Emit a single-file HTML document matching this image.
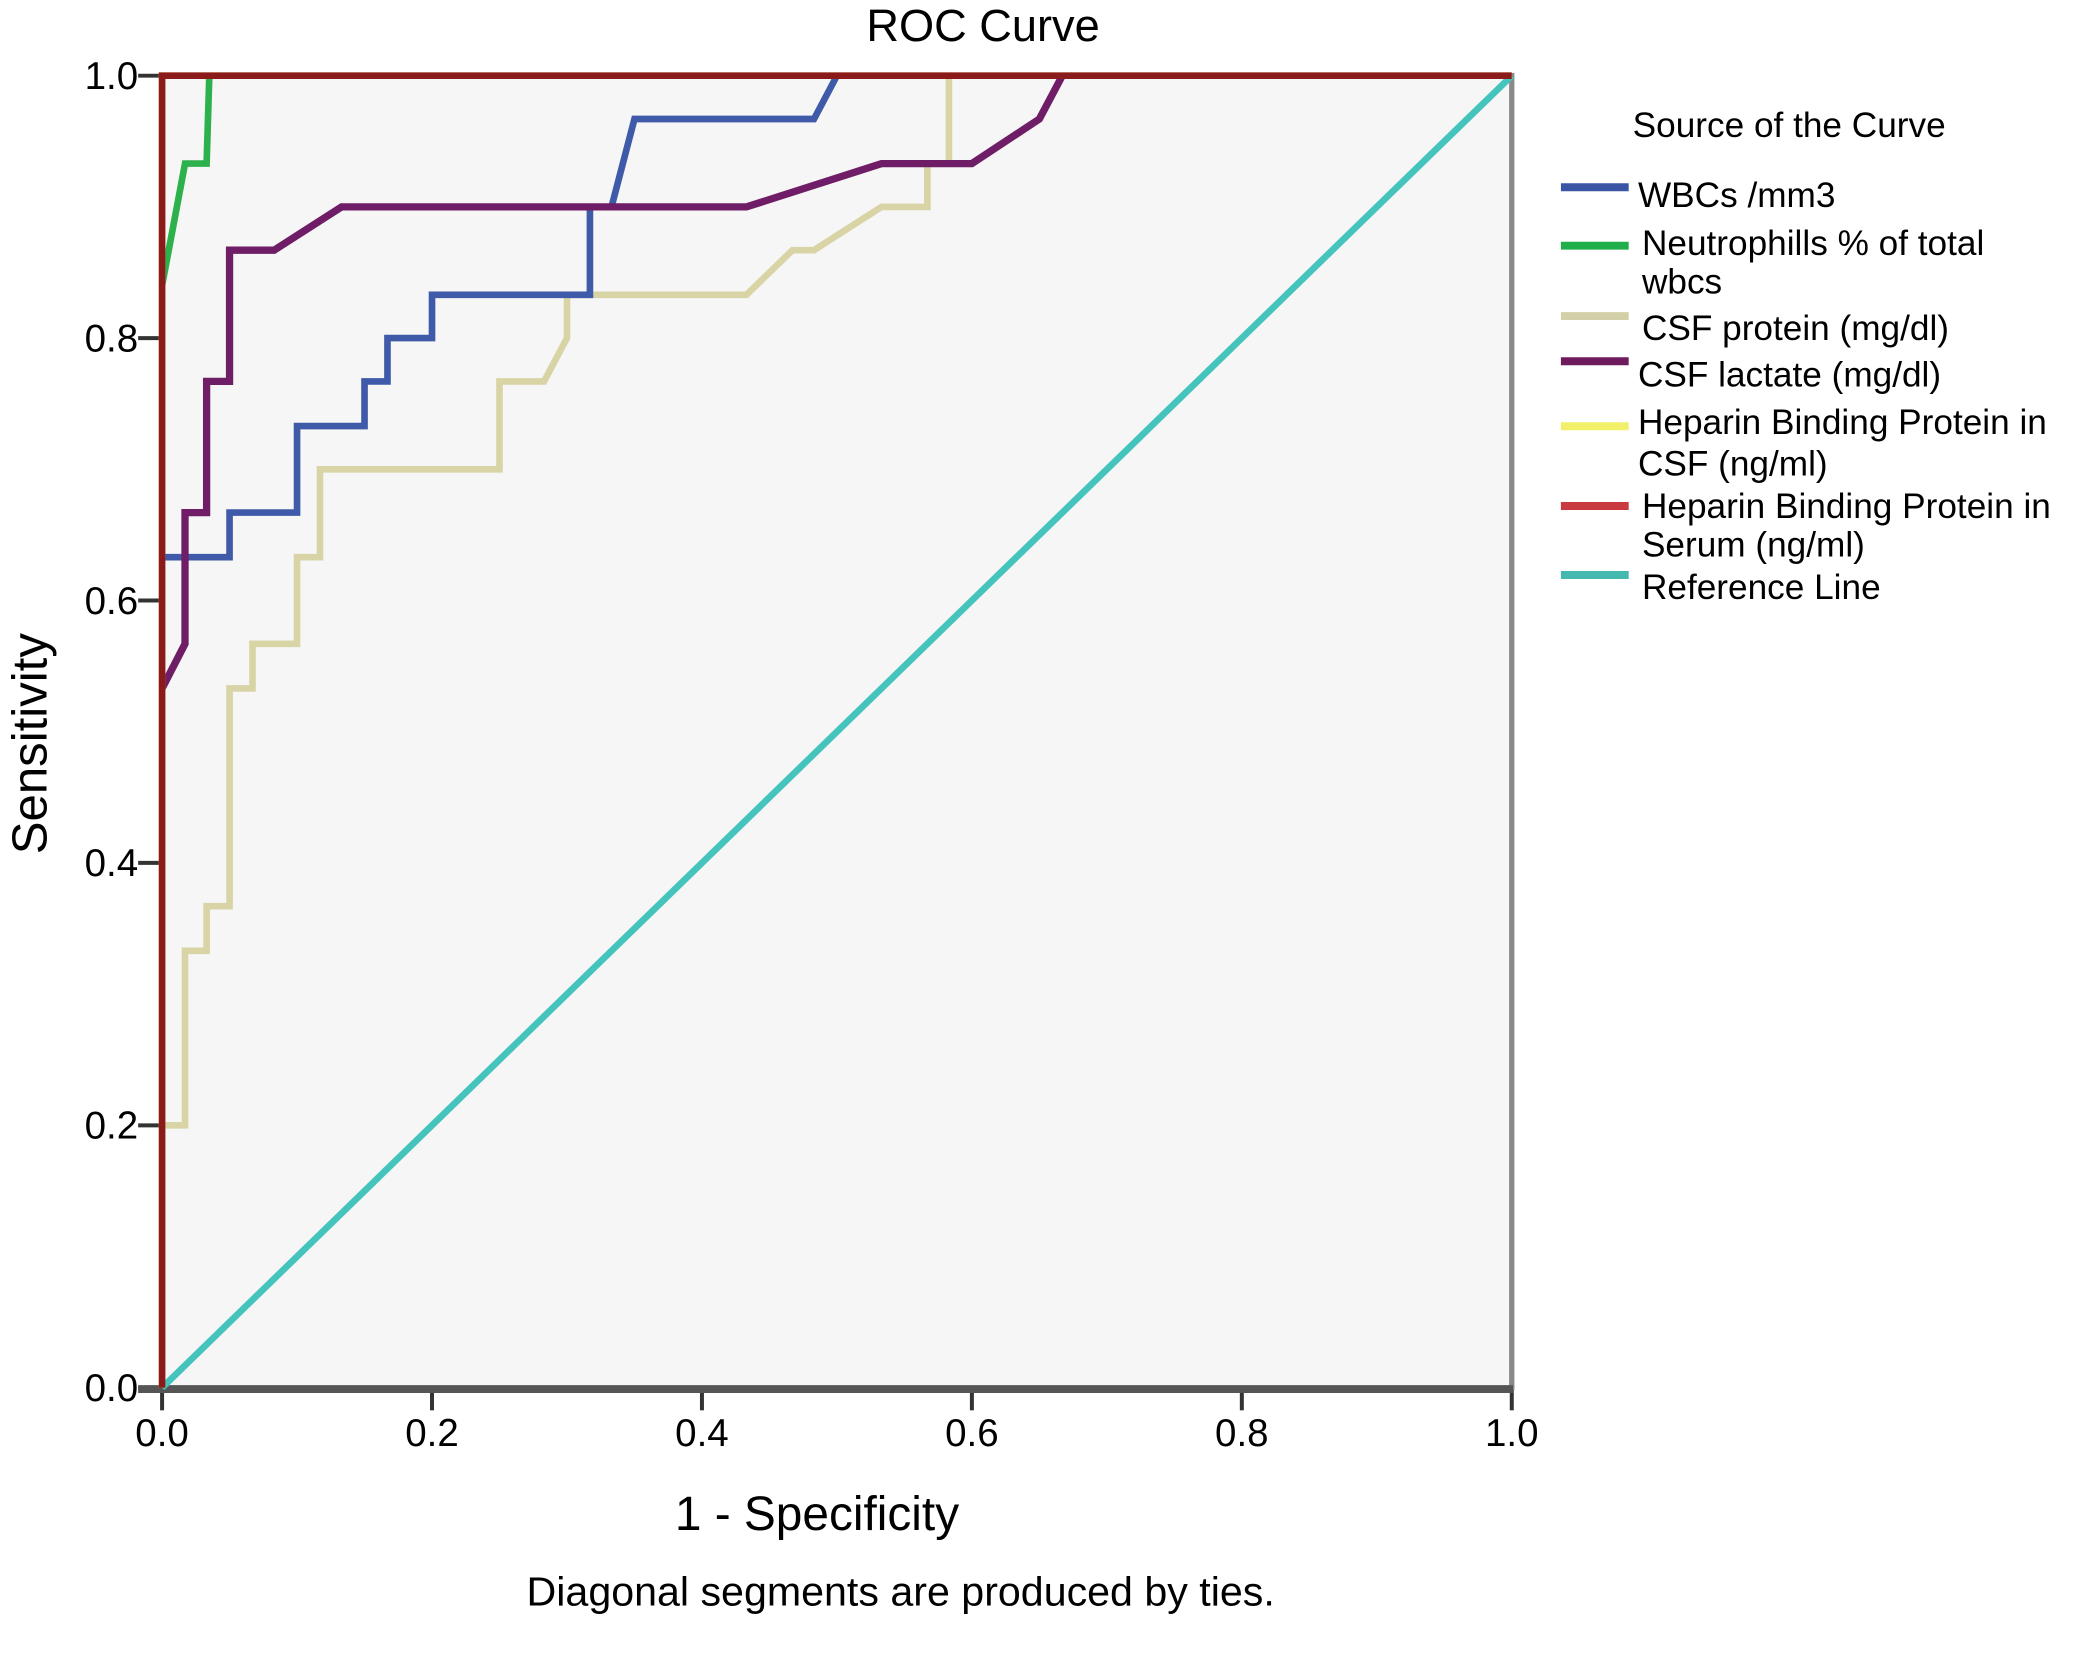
<!DOCTYPE html>
<html><head><meta charset="utf-8"><style>
html,body{margin:0;padding:0;background:#fff;}
svg{display:block;font-family:"Liberation Sans",Arial,sans-serif;}
</style></head><body>
<svg id="chart" width="2083" height="1656" viewBox="0 0 1568 1247" preserveAspectRatio="none" xmlns="http://www.w3.org/2000/svg">
<rect x="122" y="57" width="1016" height="988" fill="#f6f6f6"/>
<text x="740" y="31" font-size="34" text-anchor="middle">ROC Curve</text>
<g id="yticks"></g>
<g id="xticks"></g>
<line x1="1138" y1="55" x2="1138" y2="1047" stroke="#8a8a8a" stroke-width="4"/>
<line x1="104" y1="1046" x2="1139" y2="1046" stroke="#555" stroke-width="6"/>
<g id="series"></g>
<text transform="translate(35,560) rotate(-90)" font-size="37" text-anchor="middle">Sensitivity</text>
<text x="615" y="1152" font-size="36" text-anchor="middle">1 - Specificity</text>
<text x="678" y="1209" font-size="31" text-anchor="middle">Diagonal segments are produced by ties.</text>
<g font-size="26.5">
<text x="1229" y="103">Source of the Curve</text>
<g><line x1="1175" y1="141" x2="1226" y2="141" stroke="#3b55a5" stroke-width="6"/><text x="1233" y="156">WBCs /mm3</text></g>
<g><line x1="1175" y1="185" x2="1226" y2="185" stroke="#1fae4a" stroke-width="6"/><text x="1236" y="192">Neutrophills % of total</text><text x="1236" y="221">wbcs</text></g>
<g><line x1="1175" y1="238" x2="1226" y2="238" stroke="#d3d0a8" stroke-width="6"/><text x="1236" y="256">CSF protein (mg/dl)</text></g>
<g><line x1="1175" y1="272" x2="1226" y2="272" stroke="#6e1b5e" stroke-width="6"/><text x="1233" y="291">CSF lactate (mg/dl)</text></g>
<g><line x1="1175" y1="321" x2="1226" y2="321" stroke="#f2f06a" stroke-width="6"/><text x="1233" y="327">Heparin Binding Protein in</text><text x="1233" y="358">CSF (ng/ml)</text></g>
<g><line x1="1175" y1="381" x2="1226" y2="381" stroke="#c93a40" stroke-width="6"/><text x="1236" y="390">Heparin Binding Protein in</text><text x="1236" y="419">Serum (ng/ml)</text></g>
<g><line x1="1175" y1="433" x2="1226" y2="433" stroke="#45b8b0" stroke-width="6"/><text x="1236" y="451">Reference Line</text></g>
</g>
</svg>
<script>
const tickLabels = ["0.0","0.2","0.4","0.6","0.8","1.0"];
const tickValues = [0,0.2,0.4,0.6,0.8,1.0];
const wbcX = [0,0.05,0.05,0.1,0.1,0.15,0.15,0.167,0.167,0.2,0.2,0.317,0.317,0.333,0.35,0.483,0.5];
const wbcY = [0.633,0.633,0.667,0.667,0.733,0.733,0.767,0.767,0.8,0.8,0.833,0.833,0.9,0.9,0.967,0.967,1.0];
const neutX = [0,0.017,0.033,0.035];
const neutY = [0.84,0.933,0.933,1.0];
const protX = [0,0.017,0.017,0.033,0.033,0.05,0.05,0.067,0.067,0.1,0.1,0.117,0.117,0.25,0.25,0.283,0.3,0.3,0.433,0.467,0.483,0.533,0.567,0.567,0.583,0.583];
const protY = [0.2,0.2,0.333,0.333,0.367,0.367,0.533,0.533,0.567,0.567,0.633,0.633,0.7,0.7,0.767,0.767,0.8,0.833,0.833,0.867,0.867,0.9,0.9,0.933,0.933,1.0];
const lactX = [0,0.017,0.017,0.033,0.033,0.05,0.05,0.083,0.133,0.433,0.533,0.6,0.65,0.667];
const lactY = [0.533,0.567,0.667,0.667,0.767,0.767,0.867,0.867,0.9,0.9,0.933,0.933,0.967,1.0];
const hbpCsfX = [0,0,1];
const hbpCsfY = [0,1,1];
const hbpSerumX = [0,0,1];
const hbpSerumY = [0,1,1];
const refX = [0,1];
const refY = [0,1];

const NS="http://www.w3.org/2000/svg";
const X0=122,X1=1138,Y0=1045,Y1=57;
const sx=v=>X0+v*(X1-X0), sy=v=>Y0-v*(Y0-Y1);
const yg=document.getElementById('yticks'), xg=document.getElementById('xticks');
tickValues.forEach((v,i)=>{
  let l=document.createElementNS(NS,'line');
  l.setAttribute('x1',104);l.setAttribute('x2',122);l.setAttribute('y1',sy(v));l.setAttribute('y2',sy(v));
  l.setAttribute('stroke','#333');l.setAttribute('stroke-width',3);
  
  
  yg.appendChild(l);
  let t=document.createElementNS(NS,'text');
  t.setAttribute('x',104);t.setAttribute('y',sy(v)+10);t.setAttribute('font-size',29);t.setAttribute('text-anchor','end');
  t.textContent=tickLabels[i];
  
  
  yg.appendChild(t);
  let l2=document.createElementNS(NS,'line');
  l2.setAttribute('x1',sx(v));l2.setAttribute('x2',sx(v));l2.setAttribute('y1',1045);l2.setAttribute('y2',1062);
  l2.setAttribute('stroke','#333');l2.setAttribute('stroke-width',3);
  
  
  xg.appendChild(l2);
  let t2=document.createElementNS(NS,'text');
  t2.setAttribute('x',sx(v));t2.setAttribute('y',1089);t2.setAttribute('font-size',29);t2.setAttribute('text-anchor','middle');
  t2.textContent=tickLabels[i];
  
  
  xg.appendChild(t2);
});
const sg=document.getElementById('series');
function draw(xs,ys,color,name,w){
  const p=document.createElementNS(NS,'polyline');
  p.setAttribute('points',xs.map((x,i)=>sx(x)+','+sy(ys[i])).join(' '));
  p.setAttribute('fill','none');p.setAttribute('stroke',color);p.setAttribute('stroke-width',w);
  p.setAttribute('stroke-linejoin','miter');
  
  
  sg.appendChild(p);
}
draw(refX,refY,'#45c4bd','reference-line',5);
draw(protX,protY,'#d8d4a6','csf-protein-curve',5);
draw(wbcX,wbcY,'#3f5aa8','wbc-curve',5);
draw(lactX,lactY,'#6e1d66','csf-lactate-curve',5.5);
draw(neutX,neutY,'#2db14c','neutrophils-curve',5);
draw(hbpCsfX,hbpCsfY,'#f2f06a','hbp-csf-curve',5);
draw(hbpSerumX,hbpSerumY,'#8b1a1a','hbp-serum-curve',5);
</script>
</body></html>
